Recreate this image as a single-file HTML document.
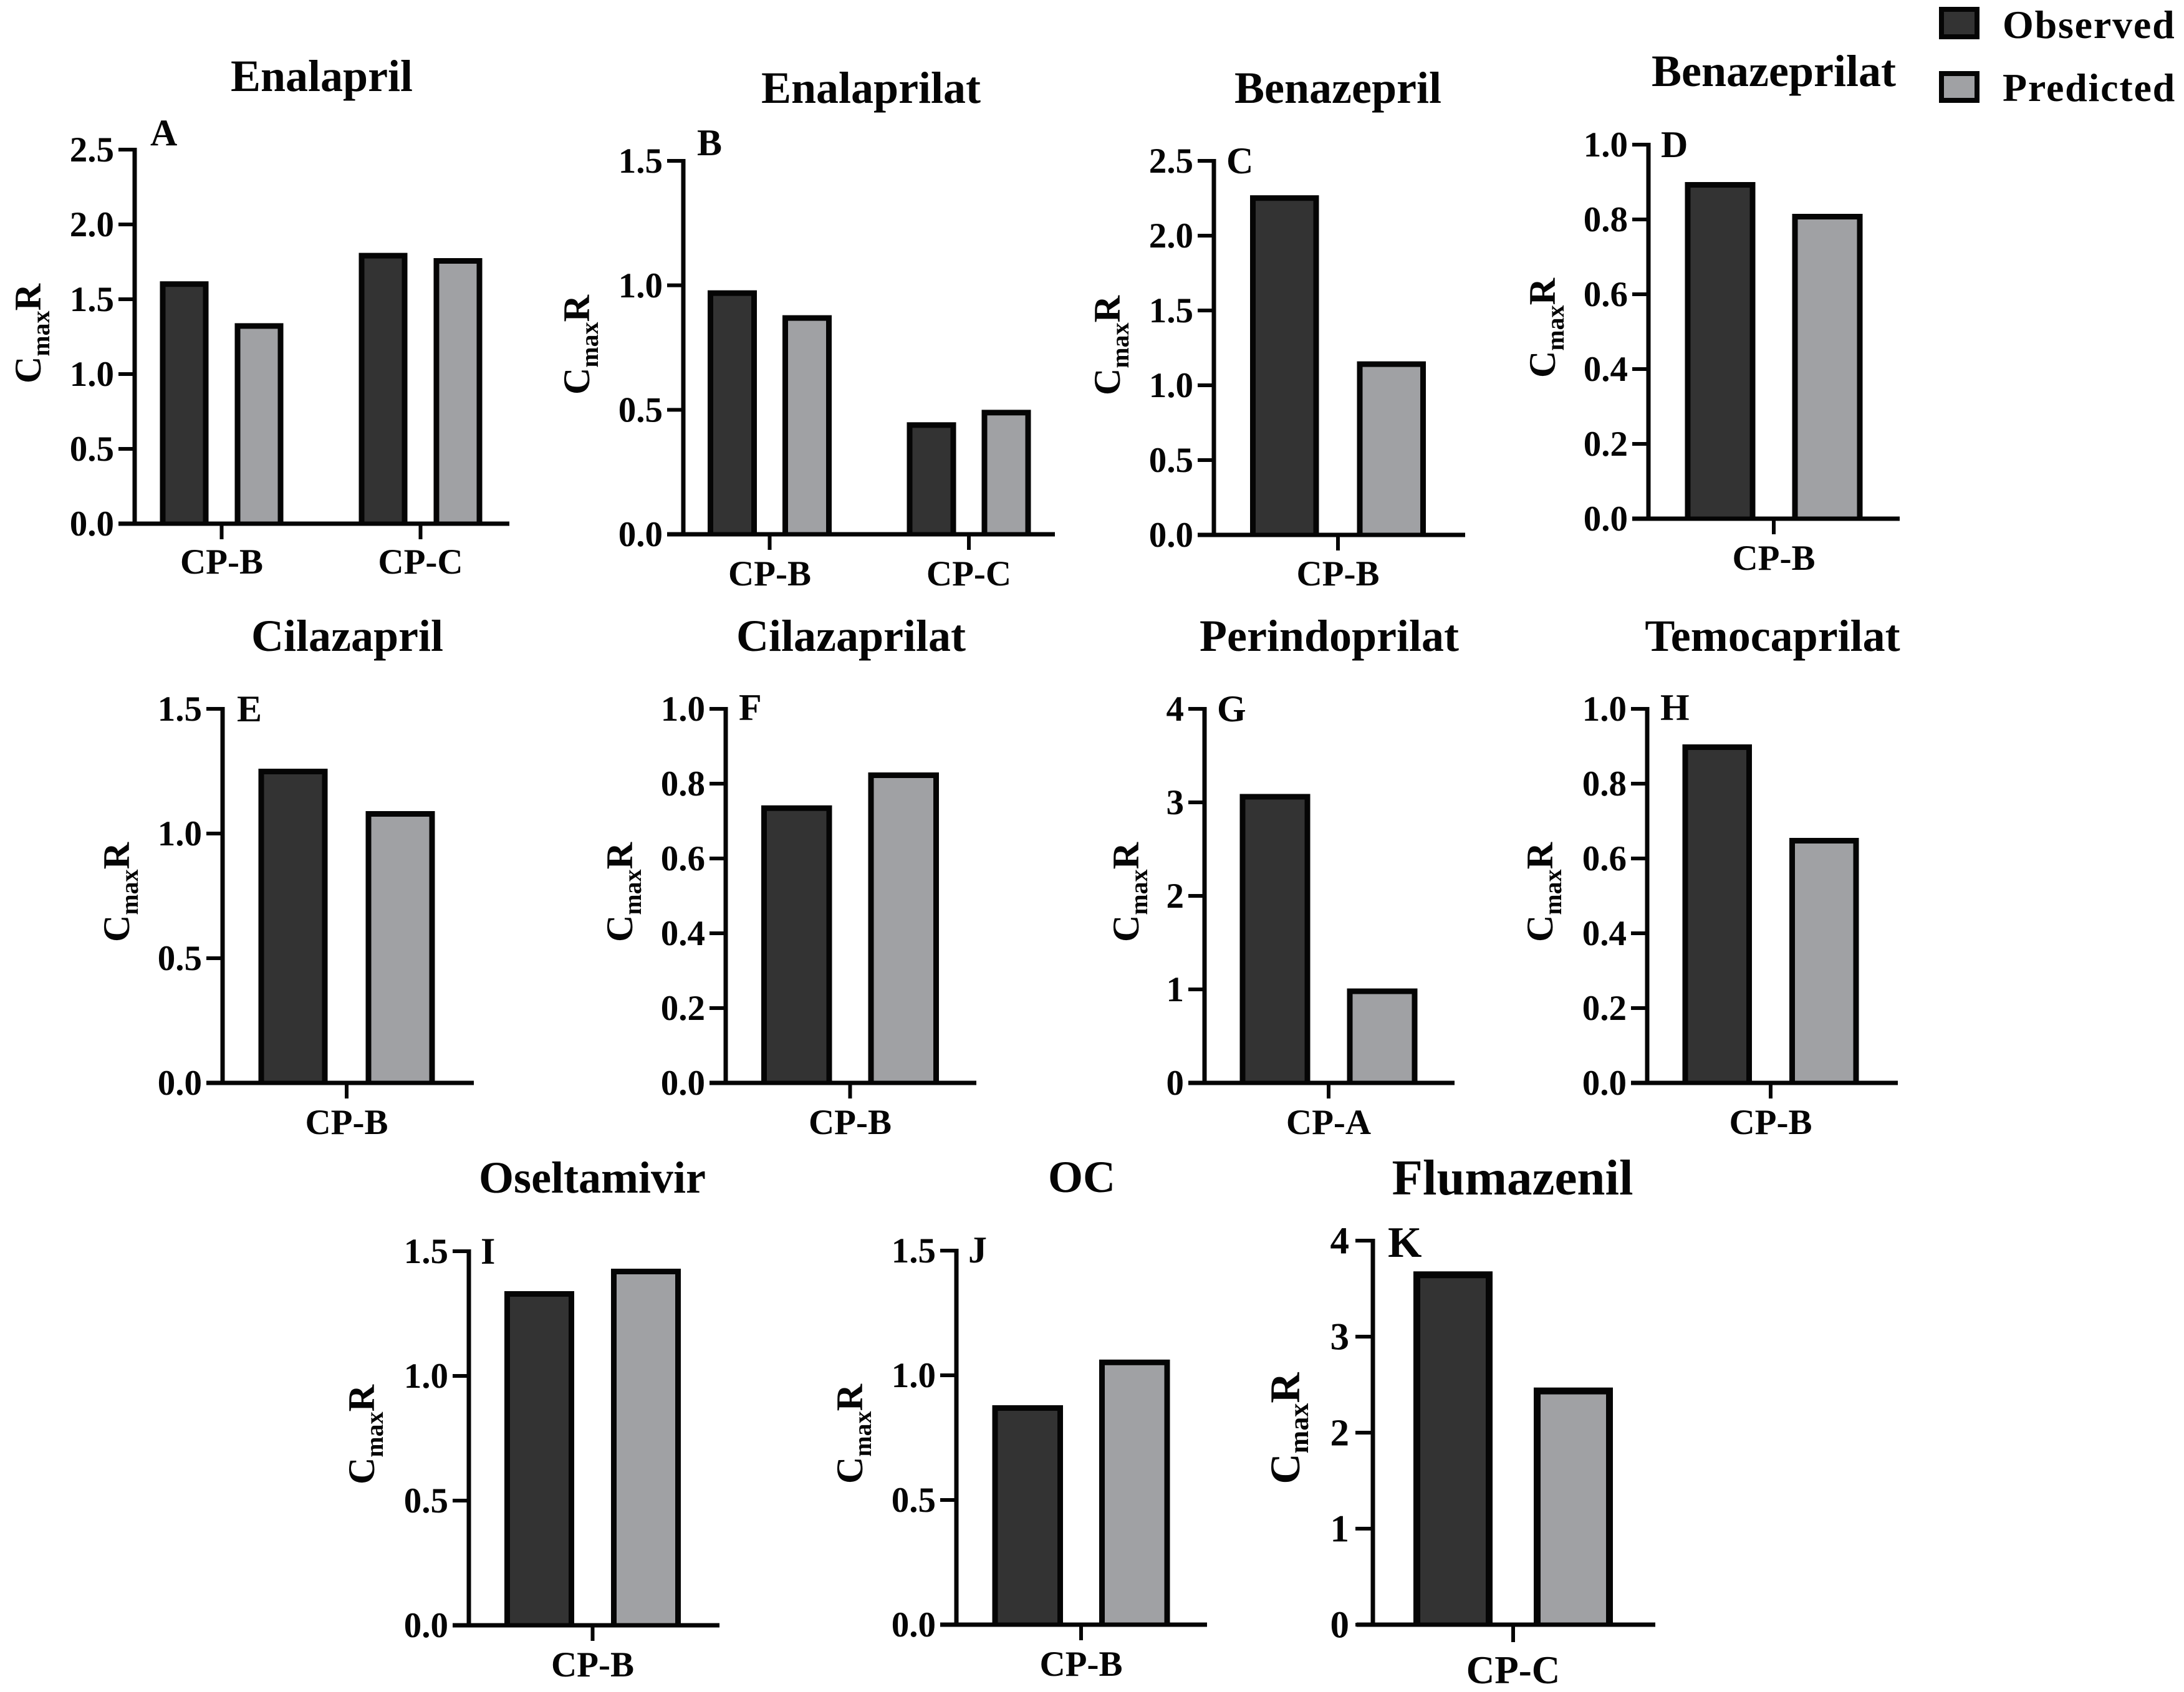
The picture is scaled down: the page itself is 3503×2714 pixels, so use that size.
<!DOCTYPE html>
<html lang="en">
<head>
<meta charset="utf-8">
<title>Observed and predicted CmaxR by drug</title>
<style>
html,body{margin:0;padding:0;background:#fff;width:3503px;height:2714px;overflow:hidden}
svg{display:block;font-family:"Liberation Serif","Times New Roman",serif;font-weight:700}
text{fill:#050505}
</style>
</head>
<body>
<svg id="figure" xmlns="http://www.w3.org/2000/svg" width="3503" height="2714" viewBox="0 0 3503 2714">
  <rect x="0" y="0" width="3503" height="2714" fill="#ffffff"/>
  <g>
    <g>
      <rect x="3114" y="15" width="57" height="44" fill="#333333" stroke="#050505" stroke-width="8"/>
      <text x="3212" y="61" font-size="64" letter-spacing="1.8">Observed</text>
    </g>
    <g>
      <rect x="3114" y="118" width="57" height="43" fill="#a0a1a4" stroke="#050505" stroke-width="8"/>
      <text x="3212" y="162" font-size="64" letter-spacing="1.8">Predicted</text>
    </g>
  </g>
</svg>
<script>
// Data
const ticks25 = ['0.0', '0.5', '1.0', '1.5', '2.0', '2.5'];
const ticks15 = ['0.0', '0.5', '1.0', '1.5'];
const ticks10 = ['0.0', '0.2', '0.4', '0.6', '0.8', '1.0'];
const ticks4 = ['0', '1', '2', '3', '4'];

const categoriesAB = ['CP-B', 'CP-C'];
const categoriesB = ['CP-B'];
const categoriesA = ['CP-A'];
const categoriesC = ['CP-C'];

const enalaprilObserved = [1.62, 1.81];
const enalaprilPredicted = [1.34, 1.775];
const enalaprilatObserved = [0.98, 0.45];
const enalaprilatPredicted = [0.88, 0.50];
const benazeprilObserved = [2.27];
const benazeprilPredicted = [1.16];
const benazeprilatObserved = [0.90];
const benazeprilatPredicted = [0.815];
const cilazaprilObserved = [1.26];
const cilazaprilPredicted = [1.09];
const cilazaprilatObserved = [0.742];
const cilazaprilatPredicted = [0.83];
const perindoprilatObserved = [3.09];
const perindoprilatPredicted = [1.01];
const temocaprilatObserved = [0.905];
const temocaprilatPredicted = [0.655];
const oseltamivirObserved = [1.34];
const oseltamivirPredicted = [1.43];
const ocObserved = [0.88];
const ocPredicted = [1.063];
const flumazenilObserved = [3.68];
const flumazenilPredicted = [2.47];

// Layout for each panel (geometry only; values come from the arrays above)
const panels = [
  {slug:'panel-a-enalapril', title:'Enalapril', letter:'A', cats:categoriesAB, ticks:ticks25, obs:enalaprilObserved, pred:enalaprilPredicted,
   ax:216, xEnd:817, top:240, bot:840, c0:355.5, step:319, gap:42, w:78, tx:516, ty:146, lx:241, ly:233, ylx:65, yly:535, cy:920},
  {slug:'panel-b-enalaprilat', title:'Enalaprilat', letter:'B', cats:categoriesAB, ticks:ticks15, obs:enalaprilatObserved, pred:enalaprilatPredicted,
   ax:1096, xEnd:1692, top:258, bot:857, c0:1234.5, step:319.5, gap:41, w:79, tx:1397, ty:165, lx:1118, ly:249, ylx:945, yly:553, cy:939},
  {slug:'panel-c-benazepril', title:'Benazepril', letter:'C', cats:categoriesB, ticks:ticks25, obs:benazeprilObserved, pred:benazeprilPredicted,
   ax:1947, xEnd:2350, top:258, bot:858, c0:2146, step:0, gap:61, w:110.5, tx:2146, ty:165, lx:1967, ly:278, ylx:1796, yly:554, cy:939},
  {slug:'panel-d-benazeprilat', title:'Benazeprilat', letter:'D', cats:categoriesB, ticks:ticks10, obs:benazeprilatObserved, pred:benazeprilatPredicted,
   ax:2644, xEnd:3047, top:232, bot:832, c0:2845, step:0, gap:59, w:113, tx:2845, ty:138, lx:2664, ly:252, ylx:2494, yly:526, cy:914},
  {slug:'panel-e-cilazapril', title:'Cilazapril', letter:'E', cats:categoriesB, ticks:ticks15, obs:cilazaprilObserved, pred:cilazaprilPredicted,
   ax:357, xEnd:760, top:1137, bot:1737, c0:556, step:0, gap:61, w:111, tx:557, ty:1044, lx:380, ly:1157, ylx:207, yly:1431, cy:1819},
  {slug:'panel-f-cilazaprilat', title:'Cilazaprilat', letter:'F', cats:categoriesB, ticks:ticks10, obs:cilazaprilatObserved, pred:cilazaprilatPredicted,
   ax:1164, xEnd:1566, top:1137, bot:1737, c0:1363.5, step:0, gap:58, w:113.5, tx:1365, ty:1044, lx:1185, ly:1155, ylx:1014, yly:1431, cy:1819},
  {slug:'panel-g-perindoprilat', title:'Perindoprilat', letter:'G', cats:categoriesA, ticks:ticks4, obs:perindoprilatObserved, pred:perindoprilatPredicted,
   ax:1932, xEnd:2333, top:1137, bot:1737, c0:2131, step:0, gap:59, w:113, tx:2132, ty:1044, lx:1952, ly:1157, ylx:1826, yly:1431, cy:1819},
  {slug:'panel-h-temocaprilat', title:'Temocaprilat', letter:'H', cats:categoriesB, ticks:ticks10, obs:temocaprilatObserved, pred:temocaprilatPredicted,
   ax:2642, xEnd:3044, top:1137, bot:1737, c0:2840, step:0, gap:60, w:111.5, tx:2843, ty:1044, lx:2663, ly:1155, ylx:2490, yly:1431, cy:1819},
  {slug:'panel-i-oseltamivir', title:'Oseltamivir', letter:'I', cats:categoriesB, ticks:ticks15, obs:oseltamivirObserved, pred:oseltamivirPredicted,
   ax:752, xEnd:1154, top:2007, bot:2607, c0:950.5, step:0, gap:59, w:112, tx:950, ty:1913, lx:771, ly:2027, ylx:600, yly:2301, cy:2689},
  {slug:'panel-j-oc', title:'OC', letter:'J', cats:categoriesB, ticks:ticks15, obs:ocObserved, pred:ocPredicted,
   ax:1534, xEnd:1936, top:2006, bot:2606, c0:1734, step:0, gap:58, w:113.5, tx:1735, ty:1912, lx:1553, ly:2025, ylx:1383, yly:2300, cy:2688},
  {slug:'panel-k-flumazenil', title:'Flumazenil', letter:'K', cats:categoriesC, ticks:ticks4, obs:flumazenilObserved, pred:flumazenilPredicted,
   ax:2202, xEnd:2655, top:1990, bot:2606, c0:2427, step:0, gap:66, w:127, tx:2426, ty:1916, lx:2226, ly:2016, ylx:2084, yly:2291, cy:2700, large:true}
];

const NS = 'http://www.w3.org/2000/svg';
const INK = '#050505';
const OBS_FILL = '#333333';
const PRED_FILL = '#a0a1a4';
const svg = document.getElementById('figure');

function make(tag, attrs, parent, txt) {
  const n = document.createElementNS(NS, tag);
  for (const k in attrs) n.setAttribute(k, attrs[k]);
  if (txt !== undefined) n.textContent = txt;
  parent.appendChild(n);
  return n;
}

// The bar outline runs past the baseline; the panel clip hides its bottom edge so only the axis shows there.
function drawBar(group, left, width, topY, botY, sw, fill) {
  return make('rect', {
    x: left + sw / 2,
    y: topY + sw / 2,
    width: width - sw,
    height: Math.max(0, botY + 3 - topY),
    fill: fill,
    stroke: INK,
    'stroke-width': sw
  }, group);
}

panels.forEach(function (p, idx) {
  const big = !!p.large;
  const tickFont = big ? 61 : 57;
  const catFont = big ? 63 : 57;
  const titleFont = big ? 81 : 72;
  const letterFont = big ? 70 : 60;
  const ylFont = big ? 68 : 60;
  const subFont = big ? 44 : 40;
  const barStroke = big ? 11 : 9;
  const labelGap = big ? 38 : 33;
  const tickLen = big ? 28 : 25;
  const maxV = parseFloat(p.ticks[p.ticks.length - 1]);
  const yScale = function (v) { return p.bot - (v / maxV) * (p.bot - p.top); };
  const xScale = function (i) { return p.c0 + i * p.step; };

  const g = make('g', {}, svg);
  
  

  const clip = make('clipPath', {id: 'bars-clip-' + idx}, g);
  make('rect', {x: p.ax, y: 0, width: p.xEnd - p.ax, height: p.bot + 3}, clip);

  const title = make('text', {x: p.tx, y: p.ty, 'font-size': titleFont, 'text-anchor': 'middle'}, g, p.title);
  
  

  const letter = make('text', {x: p.lx, y: p.ly, 'font-size': letterFont}, g, p.letter);
  
  

  const yLabel = make('text', {
    transform: 'translate(' + p.ylx + ',' + p.yly + ') rotate(-90)',
    'text-anchor': 'middle',
    'font-size': ylFont
  }, g);
  
  
  make('tspan', {}, yLabel, 'C');
  make('tspan', {'font-size': subFont, dy: 14}, yLabel, 'max');
  make('tspan', {dy: -14}, yLabel, 'R');

  const barLayer = make('g', {'clip-path': 'url(#bars-clip-' + idx + ')'}, g);
  
  

  p.cats.forEach(function (cat, i) {
    const c = xScale(i);
    const obsLeft = c - p.gap / 2 - p.w;
    const predLeft = c + p.gap / 2;
    const obsBar = drawBar(barLayer, obsLeft, p.w, yScale(p.obs[i]), p.bot, barStroke, OBS_FILL);
    
    
    const predBar = drawBar(barLayer, predLeft, p.w, yScale(p.pred[i]), p.bot, barStroke, PRED_FILL);
    
    

    const xTick = make('line', {x1: c, x2: c, y1: p.bot, y2: p.bot + tickLen, stroke: INK, 'stroke-width': 6}, g);
    
    

    const catLabel = make('text', {x: c, y: p.cy, 'font-size': catFont, 'text-anchor': 'middle'}, g, cat);
    
    
  });

  p.ticks.forEach(function (t) {
    const y = yScale(parseFloat(t));
    const yTick = make('line', {x1: p.ax - (big ? 28 : 26), x2: p.ax, y1: y, y2: y, stroke: INK, 'stroke-width': 6}, g);
    
    

    const tLabel = make('text', {
      x: p.ax - labelGap,
      y: y + tickFont * 0.335,
      'font-size': tickFont,
      'text-anchor': 'end'
    }, g, t);
    
    
  });

  const yAxis = make('line', {x1: p.ax, x2: p.ax, y1: p.top - 3, y2: p.bot + 3, stroke: INK, 'stroke-width': 7}, g);
  
  

  const xAxis = make('line', {x1: p.ax - 26, x2: p.xEnd, y1: p.bot, y2: p.bot, stroke: INK, 'stroke-width': 7}, g);
  
  
});
</script>
</body>
</html>
